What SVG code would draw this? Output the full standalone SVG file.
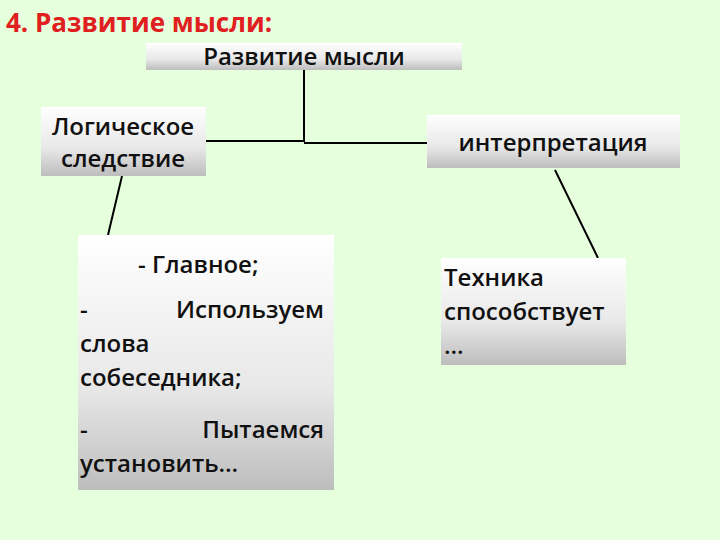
<svg xmlns="http://www.w3.org/2000/svg" width="720" height="540" viewBox="0 0 720 540">
<defs>
<linearGradient id="g" x1="0" y1="0" x2="0" y2="1">
<stop offset="0" stop-color="#ffffff"/><stop offset="0.6" stop-color="#e8e8e8"/><stop offset="1" stop-color="#bdbdbd"/>
</linearGradient>
<style>
.b{fill:url(#g)}
.t{font-family:"Open Sans","Liberation Sans",sans-serif;font-size:24px;font-weight:600;fill:#111}
.c{stroke:#000;stroke-width:2;fill:none}
</style>
</defs>
<rect width="720" height="540" fill="#e6ffdc"/>
<text x="6" y="32" font-family="Open Sans, Liberation Sans, sans-serif" font-size="26" font-weight="bold" fill="#e02020">4. Развитие мысли:</text>
<g id="connectors">
<path class="c" d="M304 70V142M206 141H304M304 143H427M122 176L108 235M555 170L598 258"/>
</g>
<g id="n1"><rect class="b" x="146" y="43" width="316" height="27"/><text class="t" x="304" y="65" text-anchor="middle">Развитие мысли</text></g>
<g id="n2"><rect class="b" x="41" y="107" width="165" height="69"/><text class="t" x="123" y="135" text-anchor="middle">Логическое</text><text class="t" x="123" y="167" text-anchor="middle">следствие</text></g>
<g id="n3"><rect class="b" x="427" y="115" width="253" height="53"/><text class="t" x="553" y="151" text-anchor="middle">интерпретация</text></g>
<g id="n4"><rect class="b" x="78" y="235" width="256" height="255"/>
<text class="t" x="138" y="273">- Главное;</text>
<text class="t" x="80" y="318">-</text><text class="t" x="324" y="318" text-anchor="end">Используем</text>
<text class="t" x="80" y="352">слова</text>
<text class="t" x="80" y="386">собеседника;</text>
<text class="t" x="80" y="438">-</text><text class="t" x="324" y="438" text-anchor="end">Пытаемся</text>
<text class="t" x="80" y="472">установить…</text></g>
<g id="n5"><rect class="b" x="441" y="258" width="185" height="107"/>
<text class="t" x="444" y="286">Техника</text>
<text class="t" x="444" y="320">способствует</text>
<text class="t" x="444" y="354">…</text></g>
</svg>
